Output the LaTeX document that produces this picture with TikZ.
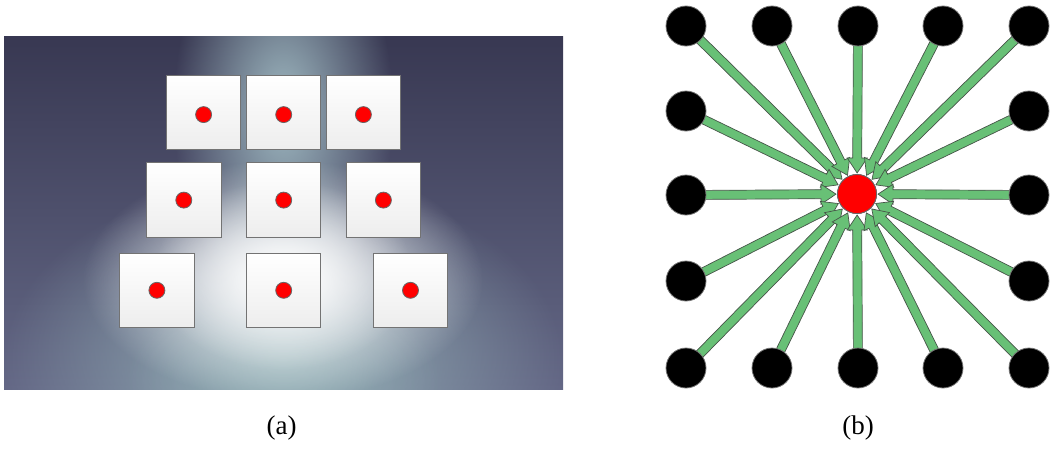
\documentclass[tikz,border=0pt]{standalone}
\usepackage{fontspec}
\setmainfont{Liberation Serif}
\usetikzlibrary{calc,fadings}
\tikzfading[name=glowfade, inner color=transparent!0, outer color=transparent!100]
\definecolor{bgtop}{RGB}{56,56,82}
\definecolor{bgbot}{RGB}{100,104,134}
\definecolor{glowteal}{RGB}{150,178,184}
\definecolor{glowcol}{RGB}{160,186,194}
\definecolor{arrowgreen}{RGB}{104,192,118}
\definecolor{arrowedge}{RGB}{70,84,72}
\tikzset{
  panelsq/.style={draw=black!55, line width=1pt, top color=white, bottom color=black!7, minimum size=74.5pt, inner sep=0pt, outer sep=0pt},
  reddot/.style={circle, fill=red, draw=black!60, line width=0.8pt, minimum size=16pt, inner sep=0pt},
  outerdot/.style={circle, fill=black, draw=black!55, line width=0.8pt, minimum size=40pt, inner sep=0pt},
  centerdot/.style={circle, fill=red, draw=black!60, line width=0.8pt, minimum size=39pt, inner sep=0pt},
  blockarrow/.style={fill=arrowgreen, draw=arrowedge, line width=0.7pt, line join=miter},
  caption/.style={inner sep=0pt}
}
\begin{document}
\begin{tikzpicture}[x=1pt,y=-1pt]
\useasboundingbox (0,0) rectangle (1051,450);
% ---------- panel (a) background ----------
\begin{scope}
  \clip (4,36) rectangle (563,389);
  \shade[top color=bgtop, bottom color=bgbot] (4,36) rectangle (563,389);
  \fill[glowteal, path fading=glowfade] (283,360) ellipse [x radius=280, y radius=180];
  \fill[glowteal, opacity=0.6, path fading=glowfade] (283,380) ellipse [x radius=160, y radius=90];
  \fill[glowcol, path fading=glowfade] (283,110) ellipse [x radius=110, y radius=200];
  \fill[white, path fading=glowfade] (283,280) ellipse [x radius=200, y radius=120];
  \fill[white, opacity=0.8, path fading=glowfade] (283,275) ellipse [x radius=130, y radius=95];
\end{scope}
% ---------- squares ----------
\node[panelsq] (s11) at (203.6,112.6) {};
\node[panelsq] (s12) at (283.7,112.6) {};
\node[panelsq] (s13) at (363.4,112.6) {};
\node[panelsq] (s21) at (183.8,200.1) {};
\node[panelsq] (s22) at (283.7,200.1) {};
\node[panelsq] (s23) at (383.4,200.1) {};
\node[panelsq] (s31) at (156.9,290.3) {};
\node[panelsq] (s32) at (283.7,290.3) {};
\node[panelsq] (s33) at (410.5,290.3) {};
\foreach \s in {11,12,13}{\node[reddot] (d\s) at ($(s\s)+(0,2)$) {};}
\foreach \s in {21,22,23,31,32,33}{\node[reddot] (d\s) at (s\s) {};}
% ---------- panel (b) ----------
\node[centerdot] (c) at (857,194) {};
\foreach \k/\x/\y in {1/686/26, 2/772/26, 3/858/26, 4/943/26, 5/1029/26,
                      6/686/111, 7/686/195, 8/686/281,
                      9/1029/111, 10/1029/195, 11/1029/281,
                      12/686/368, 13/772/368, 14/858/368, 15/943/368, 16/1029/368}
  {\coordinate (p\k) at (\x,\y);}
\foreach \k in {1,...,16}{
  \draw[blockarrow] let \p1=($(p\k)-(c)$), \n1={atan2(\y1,\x1)} in
    ($(c)+(\n1:21pt)$)
    -- ($(c)+(\n1:36pt)+(\n1+90:10pt)$)
    -- ($(c)+(\n1:36pt)+(\n1+90:4.5pt)$)
    -- ($(p\k)+(\n1+90:4.5pt)$)
    -- ($(p\k)+(\n1-90:4.5pt)$)
    -- ($(c)+(\n1:36pt)+(\n1-90:4.5pt)$)
    -- ($(c)+(\n1:36pt)+(\n1-90:10pt)$)
    -- cycle;
}
\foreach \k in {1,...,16}{\node[outerdot] (o\k) at (p\k) {};}
\node[centerdot] at (c) {};
% ---------- captions ----------
\node[caption] (capa) at (281.5,428) {\fontsize{27pt}{32pt}\selectfont (a)};
\node[caption] (capb) at (858,428) {\fontsize{27pt}{32pt}\selectfont (b)};
\end{tikzpicture}
\end{document}
